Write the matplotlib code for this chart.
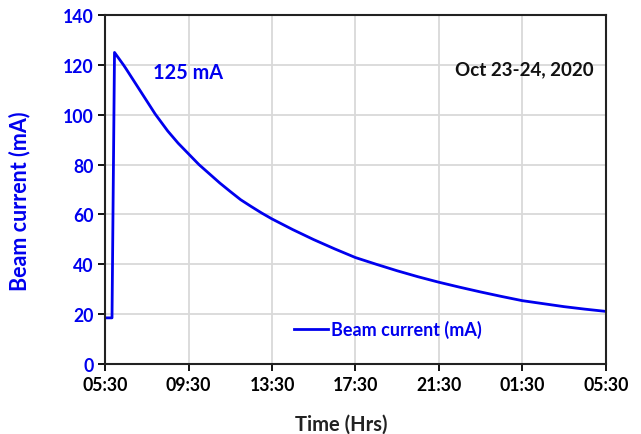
import matplotlib
matplotlib.use("Agg")
import matplotlib.pyplot as plt

plt.rcParams['font.family'] = ['Lato', 'DejaVu Sans']
plt.rcParams['font.weight'] = 'bold'

# hours after 05:30 on Oct 23 -> beam current (mA)
hours = [0, 0.33, 0.45, 0.88, 1.0, 1.5, 2.0, 2.4, 3.0, 3.5, 4.0, 4.5, 5.0, 5.5, 6.0,
         6.5, 7.0, 7.5, 8.0, 9.0, 10.0, 11.0, 12.0, 13.0, 14.0, 15.0, 16.0, 17.0,
         18.0, 19.0, 20.0, 21.0, 22.0, 23.0, 24.0]
current = [18.5, 18.5, 125, 120, 118.5, 112, 105.5, 100.3, 93.5, 88.6, 84.3, 80, 76.3, 72.6, 69.2,
           65.9, 63.2, 60.6, 58.2, 53.9, 49.9, 46.2, 42.7, 40.0, 37.4, 35.0, 32.8, 30.8,
           28.9, 27.1, 25.4, 24.2, 23.0, 22.0, 21.1]

tick_hours = [0, 4, 8, 12, 16, 20, 24]
tick_labels = ["05:30", "09:30", "13:30", "17:30", "21:30", "01:30", "05:30"]
y_ticks = [0, 20, 40, 60, 80, 100, 120, 140]

blue = '#0000ee'

fig = plt.figure(figsize=(6.41, 4.35), dpi=100)
ax = fig.add_axes([0.164, 0.161, 0.781, 0.802])

ax.plot(hours, current, color=blue, lw=2, label="Beam current (mA)")

ax.set_xlim(0, 24)
ax.set_ylim(0, 140)
ax.set_xticks(tick_hours)
ax.set_xticklabels(tick_labels)
ax.set_yticks(y_ticks)
ax.grid(True, color='#d9d9d9', lw=1.3)
ax.set_axisbelow(True)

for s in ax.spines.values():
    s.set_linewidth(1.5)
    s.set_color('#222222')

ax.tick_params(axis='both', direction='out', length=5, width=1.3, labelsize=12.7)
ax.tick_params(axis='y', labelcolor=blue)
for lbl in ax.get_xticklabels() + ax.get_yticklabels():
    lbl.set_fontweight('bold')

ax.set_xlabel("Time (Hrs)", fontsize=14.5, fontweight='bold', color='#222222')
ax.set_ylabel("Beam current (mA)", fontsize=15.5, fontweight='bold', color=blue)
ax.xaxis.set_label_coords(0.472, -0.143)
ax.yaxis.set_label_coords(-0.15, 0.47)

ax.text(0.096, 0.837, "125 mA", transform=ax.transAxes, color=blue,
        fontsize=14.3, fontweight='bold', va='center', ha='left')
ax.text(0.976, 0.845, "Oct 23-24, 2020", transform=ax.transAxes, color='#111111',
        fontsize=13.5, fontweight='bold', va='center', ha='right')

leg = ax.legend(loc='center', bbox_to_anchor=(0.565, 0.10), frameon=False,
                fontsize=13, handlelength=1.9, handletextpad=0.15)
for t in leg.get_texts():
    t.set_color(blue)
    t.set_fontweight('bold')

fig.savefig("out.png", dpi=100)
